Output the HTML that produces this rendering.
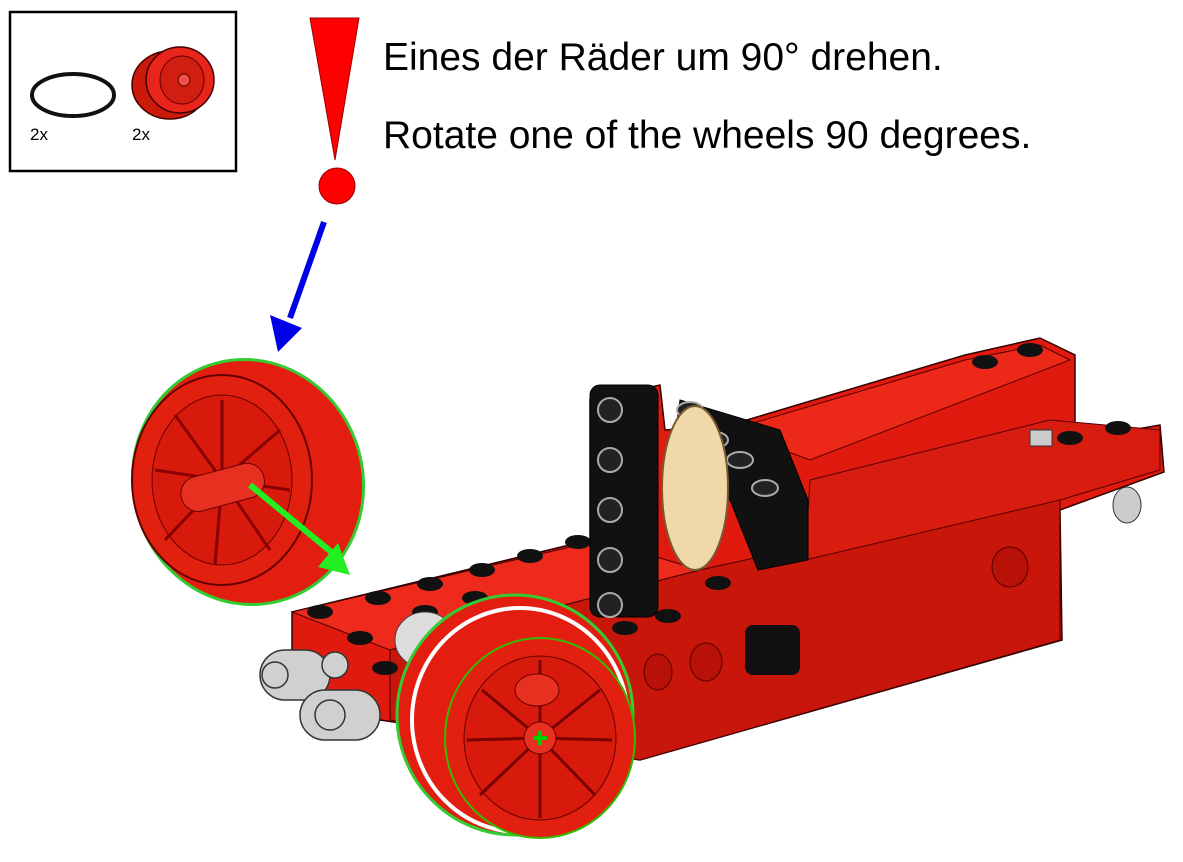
<!DOCTYPE html>
<html><head><meta charset="utf-8"><style>
html,body{margin:0;padding:0;background:#fff;width:1183px;height:862px;overflow:hidden}
svg{display:block}
</style></head><body>
<svg width="1183" height="862" viewBox="0 0 1183 862" xmlns="http://www.w3.org/2000/svg">
<!-- parts box -->
<rect x="10" y="12" width="226" height="159" fill="#fff" stroke="#000" stroke-width="2.5"/>
<ellipse cx="73" cy="95" rx="41" ry="21" fill="none" stroke="#111" stroke-width="4"/>
<ellipse cx="170" cy="85" rx="38" ry="34" fill="#cc1a0a" stroke="#400" stroke-width="1.5"/>
<ellipse cx="180" cy="80" rx="34" ry="33" fill="#e8251a" stroke="#400" stroke-width="1.5"/>
<ellipse cx="182" cy="80" rx="22" ry="24" fill="#d01e10" stroke="#600" stroke-width="1"/>
<circle cx="184" cy="80" r="6" fill="#f0504a" stroke="#600"/>
<text x="30" y="140" font-family="Liberation Sans, sans-serif" font-size="17">2x</text>
<text x="132" y="140" font-family="Liberation Sans, sans-serif" font-size="17">2x</text>
<!-- exclamation -->
<polygon points="310,18 359,18 335,160" fill="#f00" stroke="#900" stroke-width="1"/>
<circle cx="337" cy="186" r="18" fill="#f00" stroke="#900" stroke-width="1"/>
<text x="383" y="70" font-family="Liberation Sans, sans-serif" font-size="39">Eines der Räder um 90° drehen.</text>
<text x="383" y="148" font-family="Liberation Sans, sans-serif" font-size="39">Rotate one of the wheels 90 degrees.</text>
<!-- blue arrow -->
<line x1="324" y1="222" x2="290" y2="318" stroke="#0000e6" stroke-width="6"/>
<polygon points="270,315 302,328 278,352" fill="#0000e6"/>
<!-- chassis body -->
<polygon points="292,612 590,540 590,400 660,385 665,430 730,425 965,355 1040,338 1075,355 1075,440 1160,425 1164,472 1060,510 1062,640 640,760 380,720 292,695" fill="#e01a0e" stroke="#300" stroke-width="1.5"/>
<polygon points="292,612 600,540 700,570 390,650" fill="#ee2a1c" stroke="#400" stroke-width="1"/>
<polygon points="390,650 700,570 1060,490 1060,640 640,760 390,720" fill="#c8160a" stroke="#400" stroke-width="1"/>
<polygon points="730,430 965,360 1040,345 1070,360 810,460" fill="#ec2818" stroke="#500" stroke-width="1"/>
<polygon points="810,480 1050,420 1160,430 1160,470 1060,500 805,560" fill="#d81c10" stroke="#500" stroke-width="1"/>
<g fill="#111">
<ellipse cx="985" cy="362" rx="13" ry="7"/><ellipse cx="1030" cy="350" rx="13" ry="7"/>
<ellipse cx="1070" cy="438" rx="13" ry="7"/><ellipse cx="1118" cy="428" rx="13" ry="7"/>
<ellipse cx="320" cy="612" rx="13" ry="7"/><ellipse cx="360" cy="638" rx="13" ry="7"/><ellipse cx="385" cy="668" rx="13" ry="7"/>
<ellipse cx="378" cy="598" rx="13" ry="7"/><ellipse cx="430" cy="584" rx="13" ry="7"/><ellipse cx="482" cy="570" rx="13" ry="7"/>
<ellipse cx="530" cy="556" rx="13" ry="7"/><ellipse cx="578" cy="542" rx="13" ry="7"/>
<ellipse cx="425" cy="612" rx="13" ry="7"/><ellipse cx="475" cy="598" rx="13" ry="7"/>
<ellipse cx="625" cy="628" rx="13" ry="7"/><ellipse cx="668" cy="616" rx="13" ry="7"/><ellipse cx="718" cy="583" rx="13" ry="7"/>
</g>
<g fill="#b81208" stroke="#500"><ellipse cx="1010" cy="567" rx="18" ry="20"/><ellipse cx="706" cy="662" rx="16" ry="19"/><ellipse cx="658" cy="672" rx="14" ry="18"/></g>
<ellipse cx="1127" cy="505" rx="14" ry="18" fill="#ccc" stroke="#333"/>
<rect x="1030" y="430" width="22" height="16" fill="#ccc" stroke="#333"/>
<!-- black beam and block -->
<rect x="590" y="385" width="68" height="232" rx="10" fill="#111" stroke="#000"/>
<g fill="#222" stroke="#aaa" stroke-width="2"><circle cx="610" cy="410" r="12"/><circle cx="610" cy="460" r="12"/><circle cx="610" cy="510" r="12"/><circle cx="610" cy="560" r="12"/><circle cx="610" cy="605" r="12"/></g>
<polygon points="680,400 780,430 808,500 808,560 758,570 730,500 670,470" fill="#111" stroke="#000"/>
<g fill="#222" stroke="#aaa" stroke-width="2"><ellipse cx="690" cy="410" rx="13" ry="8"/><ellipse cx="715" cy="440" rx="13" ry="8"/><ellipse cx="740" cy="460" rx="13" ry="8"/><ellipse cx="765" cy="488" rx="13" ry="8"/></g>
<ellipse cx="695" cy="488" rx="33" ry="82" fill="#f0d8a8" stroke="#7a5a30" stroke-width="2"/>
<!-- gray connectors left -->
<g fill="#d0d0d0" stroke="#333" stroke-width="1.5">
<rect x="260" y="650" width="70" height="50" rx="25"/>
<rect x="300" y="690" width="80" height="50" rx="25"/>
<circle cx="275" cy="675" r="13"/><circle cx="330" cy="715" r="15"/><circle cx="335" cy="665" r="13"/>
</g>
<ellipse cx="425" cy="640" rx="30" ry="28" fill="#ddd" stroke="#444"/>
<rect x="745" y="625" width="55" height="50" rx="8" fill="#111"/>
<!-- front wheel -->
<ellipse cx="515" cy="715" rx="118" ry="120" fill="#e31d10" stroke="#3c3" stroke-width="3"/>
<ellipse cx="520" cy="720" rx="108" ry="112" fill="none" stroke="#fff" stroke-width="4"/>
<ellipse cx="540" cy="738" rx="95" ry="100" fill="#e2200f" stroke="#3b0" stroke-width="2"/>
<ellipse cx="540" cy="738" rx="76" ry="82" fill="#d81a0c" stroke="#600"/>
<g stroke="#700" stroke-width="3">
<line x1="540" y1="738" x2="540" y2="660"/><line x1="540" y1="738" x2="600" y2="690"/><line x1="540" y1="738" x2="612" y2="740"/><line x1="540" y1="738" x2="595" y2="795"/><line x1="540" y1="738" x2="540" y2="818"/><line x1="540" y1="738" x2="480" y2="795"/><line x1="540" y1="738" x2="467" y2="740"/><line x1="540" y1="738" x2="482" y2="690"/>
</g>
<ellipse cx="537" cy="690" rx="22" ry="16" fill="#e83020" stroke="#600"/>
<circle cx="540" cy="738" r="16" fill="#e83020" stroke="#600"/>
<path d="M533,738h14M540,731v14" stroke="#0c0" stroke-width="4"/>
<!-- loose wheel -->
<ellipse cx="248" cy="482" rx="115" ry="123" fill="#e31d10" stroke="#3c3" stroke-width="3" transform="rotate(-15 248 482)"/>
<ellipse cx="222" cy="480" rx="90" ry="105" fill="#e2200f" stroke="#600" stroke-width="2"/>
<ellipse cx="222" cy="480" rx="70" ry="85" fill="#d81a0c" stroke="#600"/>
<g stroke="#800" stroke-width="3">
<line x1="222" y1="480" x2="222" y2="400"/><line x1="222" y1="480" x2="280" y2="430"/><line x1="222" y1="480" x2="290" y2="490"/><line x1="222" y1="480" x2="270" y2="550"/><line x1="222" y1="480" x2="215" y2="565"/><line x1="222" y1="480" x2="165" y2="540"/><line x1="222" y1="480" x2="155" y2="470"/><line x1="222" y1="480" x2="175" y2="415"/>
</g>
<rect x="180" y="470" width="85" height="35" rx="17" fill="#e83020" stroke="#600" transform="rotate(-15 222 487)"/>
<!-- green arrow -->
<line x1="250" y1="485" x2="335" y2="555" stroke="#22ee22" stroke-width="6"/>
<polygon points="350,575 318,567 338,543" fill="#22ee22"/>
</svg>
</body></html>
